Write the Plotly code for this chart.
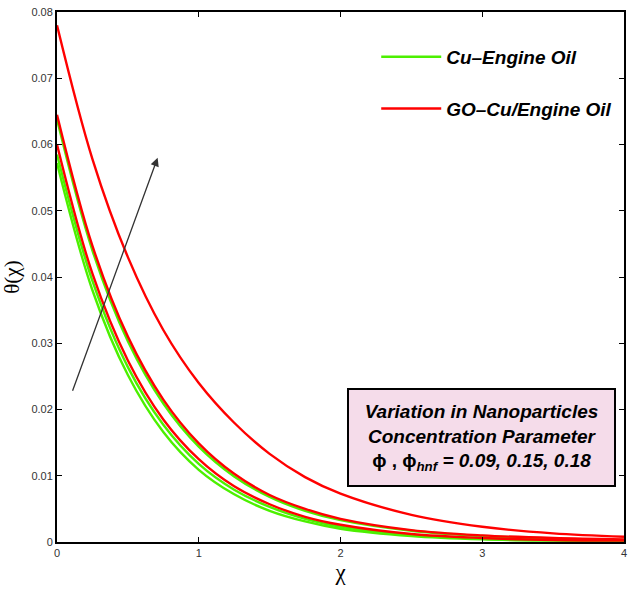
import plotly.graph_objects as go

# x positions (chi) at which curve values were read
chi = [0, 0.25, 0.5, 0.75, 1.0, 1.25, 1.5, 1.75, 2.0, 2.5, 3.0, 3.5, 4.0]

# Cu-Engine Oil (green), phi = 0.09, 0.15, 0.18
cu_009 = [0.0572, 0.0380, 0.0252, 0.0166, 0.0109, 0.0072, 0.0047, 0.0031, 0.0020, 0.0009, 0.0004, 0.0002, 0.0001]
cu_015 = [0.0585, 0.0394, 0.0264, 0.0177, 0.0118, 0.0079, 0.0053, 0.0035, 0.0023, 0.0011, 0.0005, 0.0003, 0.0002]
cu_018 = [0.0638, 0.0440, 0.0303, 0.0209, 0.0144, 0.0099, 0.0068, 0.0047, 0.0033, 0.0017, 0.0009, 0.0005, 0.0003]

# GO-Cu/Engine Oil (red), phi_hnf = 0.09, 0.15, 0.18
go_009 = [0.0600, 0.0405, 0.0274, 0.0185, 0.0125, 0.0084, 0.0057, 0.0038, 0.0026, 0.0012, 0.0006, 0.0003, 0.0002]
go_015 = [0.0645, 0.0447, 0.0310, 0.0215, 0.0149, 0.0103, 0.0071, 0.0050, 0.0035, 0.0018, 0.0010, 0.0006, 0.0004]
go_018 = [0.0780, 0.0578, 0.0430, 0.0320, 0.0240, 0.0180, 0.0133, 0.0098, 0.0073, 0.0041, 0.0023, 0.0013, 0.0008]

y_ticks = [0, 0.01, 0.02, 0.03, 0.04, 0.05, 0.06, 0.07, 0.08]
y_tick_text = ["0", "0.01", "0.02", "0.03", "0.04", "0.05", "0.06", "0.07", "0.08"]
x_ticks = [0, 1, 2, 3, 4]

GREEN = "#4cf000"
RED = "#ff0000"

fig = go.Figure()
green_sets = [cu_009, cu_015, cu_018]
red_sets = [go_009, go_015, go_018]
for i, ys in enumerate(green_sets):
    fig.add_trace(go.Scatter(x=chi, y=ys, mode="lines", line=dict(color=GREEN, width=2.4, shape="spline"),
                             name="Cu–Engine Oil", legendgroup="cu", showlegend=(i == 0)))
for i, ys in enumerate(red_sets):
    fig.add_trace(go.Scatter(x=chi, y=ys, mode="lines", line=dict(color=RED, width=2.4, shape="spline"),
                             name="GO–Cu/Engine Oil", legendgroup="go", showlegend=(i == 0)))

fig.add_annotation(x=0.71, y=0.0580, ax=0.106, ay=0.0226, xref="x", yref="y", axref="x", ayref="y",
                   text="", showarrow=True, arrowhead=2, arrowsize=1.3, arrowwidth=1.3, arrowcolor="#333333")

fig.add_annotation(x=0.7495, y=0.197, xref="paper", yref="paper", xanchor="center", yanchor="middle",
                   text="<b><i>Variation in Nanoparticles</i></b><br><b><i>Concentration Parameter</i></b><br>"
                        "<b>ϕ , ϕ<sub><i>hnf</i></sub><i> = 0.09, 0.15, 0.18</i></b>",
                   showarrow=False, align="center",
                   font=dict(family="Liberation Sans, Arial, sans-serif", size=19, color="black"),
                   bgcolor="#f5dcea", bordercolor="black", borderwidth=2, borderpad=11, width=243)

axis_common = dict(showline=True, linecolor="black", linewidth=2, mirror="ticks", ticks="inside",
                   ticklen=5, tickwidth=1, tickcolor="black", showgrid=False, zeroline=False,
                   tickfont=dict(family="Liberation Sans, Arial, sans-serif", size=11, color="#333333"))

fig.update_xaxes(range=[0, 4], tickvals=x_ticks, ticktext=[str(v) for v in x_ticks],
                 title=dict(text="χ", font=dict(family="Liberation Serif, serif", size=23, color="black"), standoff=6),
                 **axis_common)
fig.update_yaxes(range=[0, 0.08], tickvals=y_ticks, ticktext=y_tick_text,
                 title=dict(text="θ(χ)", font=dict(family="Liberation Serif, serif", size=21, color="black"), standoff=8),
                 **axis_common)

fig.update_layout(
    width=628, height=592,
    margin=dict(l=57, r=2, t=12, b=50),
    paper_bgcolor="white", plot_bgcolor="white",
    legend=dict(x=0.563, y=0.951, xanchor="left", yanchor="top", bgcolor="rgba(0,0,0,0)",
                font=dict(family="Liberation Sans, Arial, sans-serif", size=19, color="black", weight="bold", style="italic"),
                tracegroupgap=24, itemwidth=60),
)

fig.write_html("out.html")
